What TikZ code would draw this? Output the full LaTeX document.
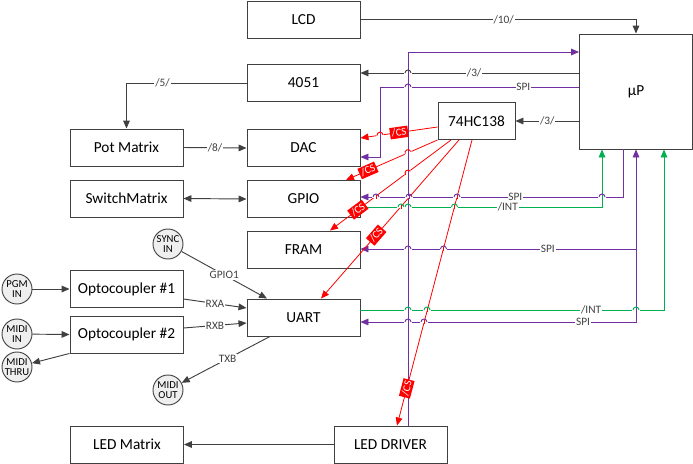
\documentclass[tikz,border=0pt]{standalone}
\usepackage{fontspec}
\setmainfont{Carlito}
\usetikzlibrary{arrows.meta}
\definecolor{linegray}{HTML}{404040}
\definecolor{spicol}{HTML}{7030A0}
\definecolor{intcol}{HTML}{00B050}
\definecolor{cscol}{HTML}{FF0000}
\definecolor{circfill}{HTML}{EFEFEF}

\tikzset{
  block/.style={draw=linegray, line width=0.7pt, minimum width=84.75pt, minimum height=27.75pt,
    inner sep=0pt, font=\fontsize{11.5}{13}\selectfont},
  port/.style={circle, draw=linegray, line width=0.7pt, fill=circfill, minimum size=22.5pt,
    inner sep=0pt, align=center, font=\fontsize{8}{7.5}\selectfont},
  conn/.style={draw=linegray, line width=0.7pt, -{Triangle[length=6pt,width=5pt]}},
  spi/.style={conn, draw=spicol},
  int/.style={conn, draw=intcol},
  cs/.style={conn, draw=cscol, line width=0.6pt},
  lbl/.style={fill=white, inner sep=0.6pt, text=linegray, font=\fontsize{8.5}{9}\selectfont},
  cstag/.style={fill=cscol, text=white, sloped, inner sep=1.3pt, font=\fontsize{8}{8}\selectfont}
}

% line hop: x, y, angle of the hopping line, its colour, colour of the line under it
\newcommand{\hop}[5]{%
  \begin{scope}[shift={(#1,#2)}, rotate=#3]
    \fill[white] (-3.6,-1.2) rectangle (3.6,1.2);
  \end{scope}
  \draw[#5, line width=0.7pt] (#1,#2-1.6) -- (#1,#2+1.6);
  \begin{scope}[shift={(#1,#2)}, rotate=#3]
    \draw[#4, line width=0.7pt] (-3,0) arc[start angle=180, end angle=360, radius=3];
  \end{scope}}

\begin{document}
\begin{tikzpicture}[x=0.75pt, y=-0.75pt]
        \useasboundingbox (0,0) rectangle (693,464);
        % blocks
        \node[block] (lcd) at (303.5,19.5) {LCD};
        \node[block] (mux) at (303.5,83) {4051};
        \node[block] (dac) at (303.5,148) {DAC};
        \node[block] (gpio) at (303.5,199) {GPIO};
        \node[block] (fram) at (303.5,249.5) {FRAM};
        \node[block] (uart) at (303.5,317.5) {UART};
        \node[block] (leddrv) at (390.5,444.5) {LED DRIVER};
        \node[block] (ledmat) at (127,444.5) {LED Matrix};
        \node[block] (pot) at (126.5,147.5) {Pot Matrix};
        \node[block] (swm) at (126.5,198.5) {SwitchMatrix};
        \node[block] (opto1) at (126.5,289) {Optocoupler \#1};
        \node[block] (opto2) at (126.5,334.5) {Optocoupler \#2};
        \node[block, minimum height=86.25pt] (up) at (636,91.5) {µP};
        \node[block, minimum width=57.75pt] (dec) at (476.5,121) {74HC138};
        % ports
        \node[port] (sync) at (168,244) {SYNC\\IN};
        \node[port] (pgm) at (17,289) {PGM\\IN};
        \node[port] (midiin) at (17,334) {MIDI\\IN};
        \node[port] (midithru) at (17,367) {MIDI\\THRU};
        \node[port] (midiout) at (168,390) {MIDI\\OUT};
        % parallel buses
        \draw[conn] (lcd.east) -| node[lbl, pos=0.26] {/10/} (up.north);
        \draw[conn] (up.west |- 0,73) -- node[lbl, pos=0.48] {/3/} (mux.east |- 0,73);
        \draw[conn] (up.west |- dec.east) -- node[lbl] {/3/} (dec.east);
        \draw[conn] (mux.west) -| node[lbl, pos=0.35] {/5/} (pot.north);
        \draw[conn] (pot.east) -- node[lbl] {/8/} (dac.west);
        \draw[conn, {Triangle[length=6pt,width=5pt]}-{Triangle[length=6pt,width=5pt]}] (swm.east) -- (gpio.west);
        \draw[conn] (leddrv.west) -- (ledmat.east);
        % serial lines
        \draw[conn] (sync) -- node[lbl] {GPIO1} (uart.north -| 267,0);
        \draw[conn] (opto1.east |- 0,299) -- node[lbl] {RXA} (uart.west |- 0,308);
        \draw[conn] (opto2.east |- 0,328) -- node[lbl] {RXB} (uart.west |- 0,323);
        \draw[conn] (uart.south -| 270,0) -- node[lbl, pos=0.48] {TXB} (midiout);
        \draw[conn] (pgm) -- (opto1.west);
        \draw[conn] (midiin) -- (opto2.west);
        \draw[conn] (opto2.south west) -- (midithru);
        % SPI
        \draw[spi] (leddrv.north -| 408,0) |- (up.west |- 0,52);
        \draw[spi] (up.west |- 0,87) -- node[lbl, pos=0.28] {SPI} (380,87) |- (dac.east |- 0,157);
        \draw[spi] (up.south -| 623,0) |- node[lbl, pos=0.705] {SPI} (gpio.east |- 0,197);
        \draw[spi, {Triangle[length=6pt,width=5pt]}-{Triangle[length=6pt,width=5pt]}] (up.south) |- node[lbl, pos=0.596] {SPI} (uart.east |- 0,322);
        \draw[spi] (up.south |- 0,249) -- node[lbl, pos=0.32] {SPI} (fram.east |- 0,249);
        % interrupts
        \draw[int] (gpio.east |- 0,207) -| node[lbl, pos=0.305] {/INT} (up.south -| 602,0);
        \draw[int] (uart.east |- 0,310) -| node[lbl, pos=0.38] {/INT} (up.south -| 664,0);
        % chip selects
        \draw[cs] (dec.west |- 0,127) -- node[cstag, pos=0.5] {/CS} (dac.east |- 0,138);
        \draw[cs] (dec.south west) -- node[cstag, pos=0.76] {/CS} (gpio.north -| 346,0);
        \draw[cs] (dec.south -| 451,0) -- node[cstag, pos=0.77] {/CS} (fram.north -| 330,0);
        \draw[cs] (dec.south -| 459,0) -- node[cstag, pos=0.6] {/CS} (uart.north -| 321,0);
        \draw[cs] (dec.south -| 472,0) -- node[cstag, pos=0.87] {/CS} (leddrv.north -| 397,0);
        % hops
        \hop{408}{73}{0}{linegray}{spicol}
        \hop{408}{87}{0}{spicol}{spicol}
        \hop{376}{197}{0}{spicol}{cscol}
        \hop{409}{197}{0}{spicol}{spicol}
        \hop{457}{197}{0}{spicol}{cscol}
        \hop{602}{197}{0}{spicol}{intcol}
        \hop{401}{207}{0}{intcol}{cscol}
        \hop{408}{207}{0}{intcol}{spicol}
        \hop{454.5}{207}{0}{intcol}{cscol}
        \hop{408}{249}{0}{spicol}{spicol}
        \hop{443.5}{249}{0}{spicol}{cscol}
        \hop{408}{310}{0}{intcol}{spicol}
        \hop{427}{310}{0}{intcol}{cscol}
        \hop{636}{310}{0}{intcol}{spicol}
        \hop{408}{322}{0}{spicol}{spicol}
        \hop{424}{322}{0}{spicol}{cscol}
        \hop{380}{135.2}{8}{cscol}{spicol}
        \hop{408}{152.7}{24}{cscol}{spicol}
        \hop{408}{173}{36.8}{cscol}{spicol}
    \end{tikzpicture}
\end{document}
